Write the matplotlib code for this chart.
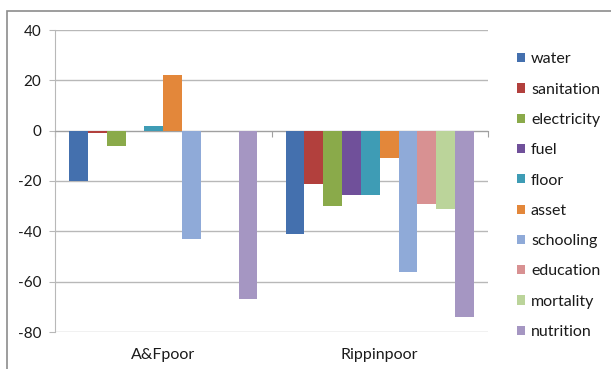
import numpy as np
import matplotlib
matplotlib.use('Agg')
import matplotlib.pyplot as plt
from matplotlib.patches import Rectangle
from matplotlib.transforms import blended_transform_factory

# Données
groupes = ['A&Fpoor', 'Rippinpoor']
series = ['water', 'sanitation', 'electricity', 'fuel', 'floor',
          'asset', 'schooling', 'education', 'mortality', 'nutrition']
afpoor = [-20, -1, -6, 0, 2, 22, -43, 0, 0, -67]
rippinpoor = [-41, -21, -30, -25.5, -25.5, -11, -56, -29, -31, -74]
couleurs = ['#4470ae', '#b2403d', '#8aaa4a', '#70509a', '#3e9cb5',
            '#e3873a', '#8faad8', '#d89192', '#bbd49a', '#a596c2']
yticks = [-80, -60, -40, -20, 0, 20, 40]

plt.rcParams['font.family'] = ['Lato', 'DejaVu Sans']
grille = '#b8b8b8'
texte = '#1a1a1a'

fig = plt.figure(figsize=(6.11, 3.69), dpi=100)
# cadre extérieur du graphique
fig.patches.append(Rectangle((7 / 611, -0.05), 1.1, 1 - 11 / 369 + 0.05,
                             transform=fig.transFigure, fill=False,
                             edgecolor='#8c8c8c', linewidth=1.2))
ax = fig.add_axes([55 / 611, 1 - 332 / 369, (488 - 55) / 611, (332 - 30) / 369])

n = len(series)
largeur = 1 / (n + 1.5)   # écart de 150 %
x = np.arange(len(groupes))
valeurs = np.array([afpoor, rippinpoor])
for i in range(n):
    pos = x - 0.5 + largeur * 0.75 + largeur * (i + 0.5)
    ax.bar(pos, valeurs[:, i], width=largeur, color=couleurs[i],
           label=series[i], zorder=3)

ax.set_xlim(-0.5, len(groupes) - 0.5)
ax.set_ylim(-80, 40)
ax.set_yticks(yticks)
ax.set_yticklabels([str(v) for v in yticks], fontsize=11, color=texte)
ax.yaxis.grid(True, color=grille, linewidth=1, zorder=0)
ax.tick_params(axis='y', length=4, color=grille, pad=6)

# axe des catégories sur la ligne zéro
for s in ['top', 'right']:
    ax.spines[s].set_visible(False)
ax.spines['left'].set_color(grille)
ax.spines['bottom'].set_position(('data', 0))
ax.spines['bottom'].set_color('#a0a0a0')
ax.set_xticks(np.arange(len(groupes) + 1) - 0.5)
ax.set_xticklabels([])
ax.tick_params(axis='x', length=4, color='#a0a0a0')

trans = blended_transform_factory(ax.transData, ax.transAxes)
for xi, nom in zip(x, groupes):
    ax.text(xi, -0.075, nom, transform=trans, ha='center', va='center',
            fontsize=11.5, color=texte)

leg = fig.legend(loc='upper left', bbox_to_anchor=(503 / 611, 1 - 38 / 369),
                 frameon=False, fontsize=11.5, handlelength=0.5,
                 handleheight=0.5, handletextpad=0.35, labelspacing=1.02)
for t in leg.get_texts():
    t.set_color(texte)

fig.savefig('out.png', dpi=100)
